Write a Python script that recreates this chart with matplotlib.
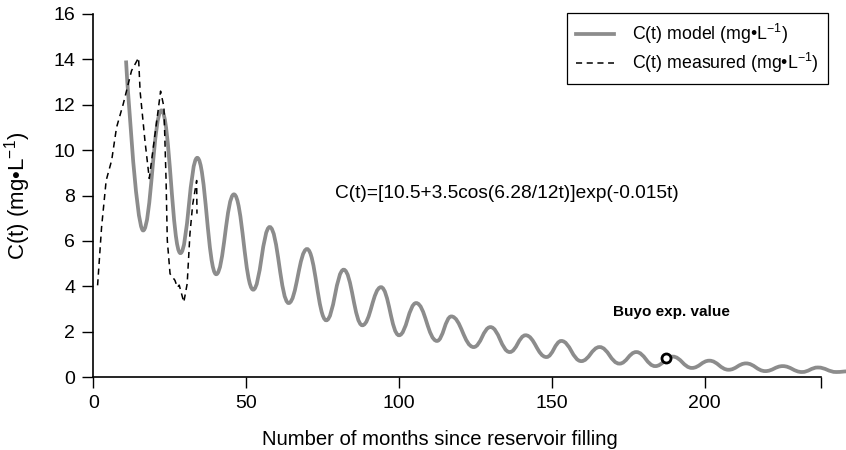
import matplotlib
matplotlib.use('Agg')
import matplotlib.pyplot as plt
from matplotlib.path import Path
from matplotlib.patches import PathPatch
from matplotlib.lines import Line2D

plt.rcParams['font.family'] = ['Liberation Sans', 'DejaVu Sans']
plt.rcParams['mathtext.fontset'] = 'custom'
plt.rcParams['mathtext.rm'] = 'Liberation Sans'
plt.rcParams['mathtext.it'] = 'Liberation Sans:italic'

# model curve, peaks and troughs (months, mg/L)
model_t = [10.7, 16.3, 22.3, 28.5, 34.0, 40.2, 46.0, 52.3, 57.7, 63.9,
           69.9, 76.2, 81.9, 88.0, 94.1, 100.0, 105.6, 112.4, 117.1, 124.4,
           129.9, 136.2, 141.4, 148.2, 153.1, 159.6, 165.6, 172.1, 177.6, 183.8,
           189.5, 195.8, 201.5, 207.8, 213.5, 219.8, 225.5, 231.8, 237.0, 243.0,
           247.0]
model_c = [13.95, 6.46, 11.75, 5.46, 9.66, 4.53, 8.05, 3.85, 6.61, 3.26,
           5.64, 2.50, 4.73, 2.28, 3.96, 1.84, 3.26, 1.59, 2.67, 1.32,
           2.20, 1.10, 1.84, 0.88, 1.59, 0.70, 1.32, 0.59, 1.10, 0.48,
           0.90, 0.40, 0.72, 0.32, 0.60, 0.26, 0.48, 0.22, 0.42, 0.22,
           0.25]

# measured values
meas_t = [1.4, 2.7, 4.2, 6.0, 7.6, 9.8, 12.5, 14.8, 15.3, 16.9, 18.3, 19.6,
          21.2, 22.0, 23.1, 23.8, 24.2, 25.1, 26.7, 27.5, 28.1, 29.6, 30.7,
          31.6, 32.5, 33.8, 33.9]
meas_c = [4.04, 6.6, 8.66, 9.55, 11.0, 12.04, 13.5, 14.07, 12.6, 10.4, 8.75, 10.1,
          11.75, 12.6, 11.9, 8.66, 6.02, 4.55, 4.26, 3.95, 4.05, 3.3, 4.11,
          6.3, 7.6, 8.66, 7.2]

buyo_t = [187.4]
buyo_c = [0.82]

fig = plt.figure(figsize=(8.46, 4.5), dpi=100)
ax = fig.add_axes([0.1103, 0.1622, 0.8601, 0.8067])

# smooth model line: cubic segments with flat tangents at each extreme
k = 0.42
verts = [(model_t[0], model_c[0])]
codes = [Path.MOVETO]
for i in range(len(model_t) - 1):
    x0, y0 = model_t[i], model_c[i]
    x1, y1 = model_t[i + 1], model_c[i + 1]
    dx = x1 - x0
    c1 = (x0, y0) if i == 0 else (x0 + k * dx, y0)
    verts += [c1, (x1 - k * dx, y1), (x1, y1)]
    codes += [Path.CURVE4] * 3
grey = '#8c8c8c'
ax.add_patch(PathPatch(Path(verts, codes), facecolor='none', edgecolor=grey,
                       lw=2.7, clip_on=False, capstyle='butt', zorder=3))

ax.plot(meas_t, meas_c, color='black', ls=(0, (4, 3)), lw=1.1, zorder=4)
ax.plot(buyo_t, buyo_c, 'o', mfc='white', mec='black', mew=2.0, ms=6.5, zorder=5)

ax.text(170, 2.7, 'Buyo exp. value', fontsize=11, fontweight='bold')
ax.text(79, 7.9, 'C(t)=[10.5+3.5cos(6.28/12t)]exp(-0.015t)', fontsize=13.8)

ax.set_xlim(0, 238)
ax.set_ylim(0, 16)
ax.set_xticks([0, 50, 100, 150, 200, 238])
ax.set_xticklabels(['0', '50', '100', '150', '200', ''])
ax.set_yticks(range(0, 17, 2))
ax.tick_params(direction='out', length=8, width=1, labelsize=14, colors='black', pad=5)
for s in ['top', 'right']:
    ax.spines[s].set_visible(False)
for s in ['left', 'bottom']:
    ax.spines[s].set_linewidth(1.2)

ax.set_xlabel('Number of months since reservoir filling', fontsize=14.6)
ax.xaxis.set_label_coords(0.476, -0.145)
ax.set_ylabel(r'C(t) (mg•L$^{-1}$)', fontsize=16)
ax.yaxis.set_label_coords(-0.083, 0.5)

handles = [Line2D([], [], color=grey, lw=2.7),
           Line2D([], [], color='black', ls=(0, (4, 3)), lw=1.1)]
labels = [r'C(t) model (mg•L$^{-1}$)', r'C(t) measured (mg•L$^{-1}$)']
leg = fig.legend(handles, labels, loc='upper right', bbox_to_anchor=(0.9787, 0.971),
                 bbox_transform=fig.transFigure, borderaxespad=0, fancybox=False,
                 edgecolor='black', fontsize=12.8, handlelength=2.1, handletextpad=1.05,
                 framealpha=1, borderpad=0.5, labelspacing=0.3)
leg.get_frame().set_linewidth(0.9)

fig.savefig('out.png', dpi=100)
